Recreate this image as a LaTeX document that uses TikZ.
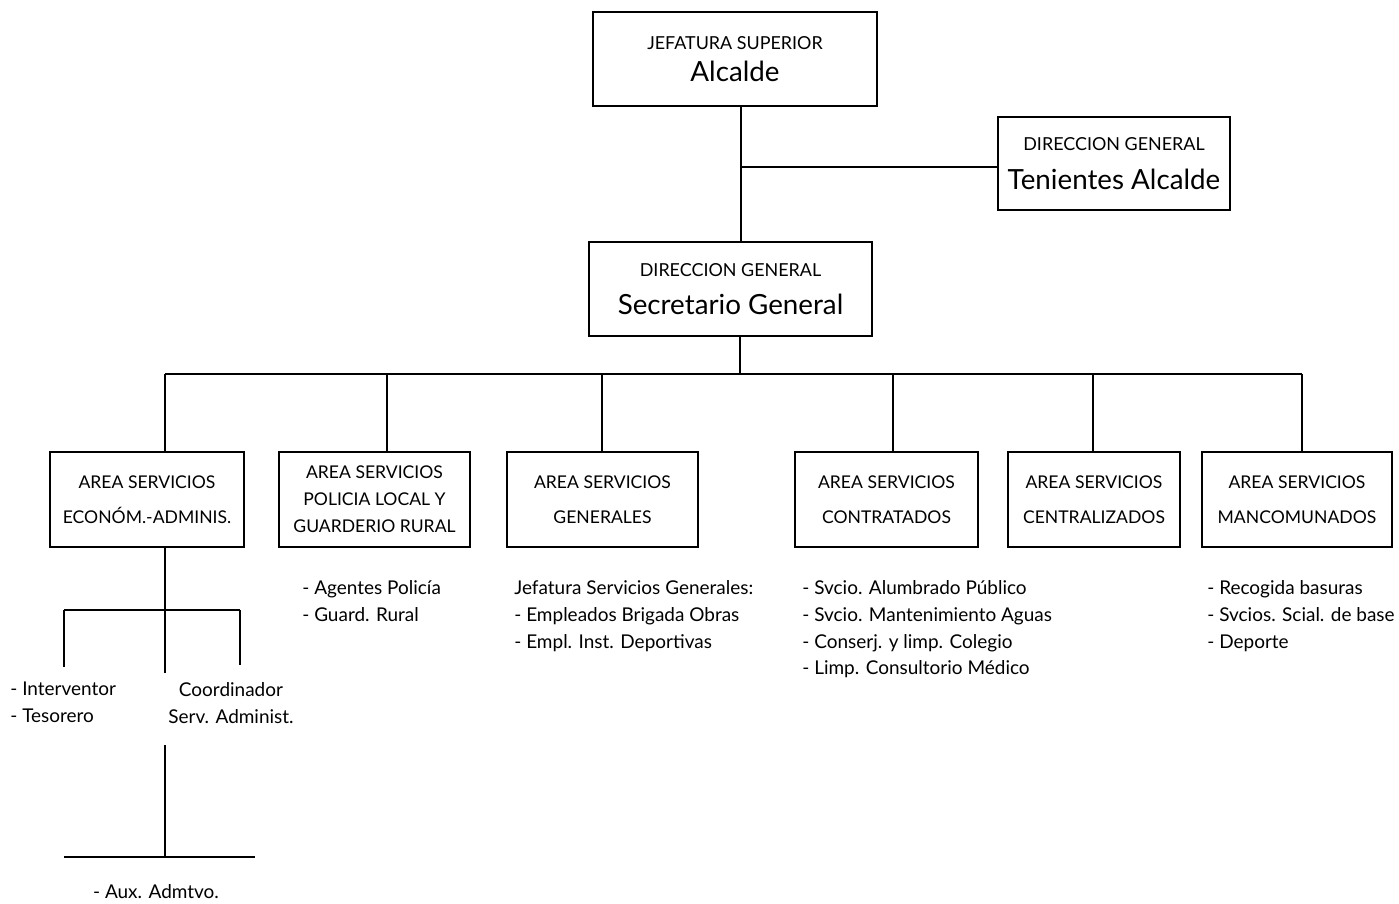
\documentclass[tikz,border=0pt]{standalone}
\usepackage{fontspec}
\setmainfont{Lato}
\tikzset{
    box/.style = {draw, line width = 1.4pt, inner sep = 0pt, align = center},
    topbox/.style = {box, minimum height = 1.88cm},
    areabox/.style = {box, minimum height = 1.9cm, font = \fontsize{10}{20}\selectfont},
    list/.style = {anchor = north west, inner sep = 0pt, align = left, font = \fontsize{10.8}{15.2}\selectfont},
    line/.style = {line width = 1.1pt}
}
\newcommand{\capsline}[1]{{\fontsize{10.2}{10}\selectfont #1}}
\newcommand{\bigline}[1]{{\fontsize{15.8}{16}\selectfont #1}}
\begin{document}
\begin{tikzpicture}[x = 0.02cm, y = -0.02cm]
        \useasboundingbox (0,0) rectangle (1399,903);
        % top level
        \node[topbox, minimum width = 5.68cm] (alc) at (735,59)
            {\capsline{JEFATURA SUPERIOR}\\[6pt]\bigline{Alcalde}};
        \node[topbox, minimum width = 4.64cm, minimum height = 1.86cm] (ten) at (1114,163.5)
            {\capsline{DIRECCION GENERAL}\\[10pt]\bigline{Tenientes Alcalde}};
        \node[topbox, minimum width = 5.66cm] (sec) at (730.5,289)
            {\capsline{DIRECCION GENERAL}\\[10pt]\bigline{Secretario General}};
        % areas
        \node[areabox, minimum width = 3.88cm] (a1) at (147,499.5) {AREA SERVICIOS\\ECONÓM.-ADMINIS.};
        \node[areabox, minimum width = 3.82cm, font = \fontsize{10}{15.4}\selectfont] (a2) at (374.5,499.5)
            {AREA SERVICIOS\\POLICIA LOCAL Y\\GUARDERIO RURAL};
        \node[areabox, minimum width = 3.82cm] (a3) at (602.5,499.5) {AREA SERVICIOS\\GENERALES};
        \node[areabox, minimum width = 3.66cm] (a4) at (886.5,499.5) {AREA SERVICIOS\\CONTRATADOS};
        \node[areabox, minimum width = 3.44cm] (a5) at (1094,499.5) {AREA SERVICIOS\\CENTRALIZADOS};
        \node[areabox, minimum width = 3.80cm] (a6) at (1297,499.5) {AREA SERVICIOS\\MANCOMUNADOS};
        % lists
        \node[list] (l2) at (302,580.5) {- Agentes Policía\\- Guard. Rural};
        \node[list] (l3) at (514,580.5) {Jefatura Servicios Generales:\\- Empleados Brigada Obras\\- Empl. Inst. Deportivas};
        \node[list] (l4) at (802,580.5) {- Svcio. Alumbrado Público\\- Svcio. Mantenimiento Aguas\\- Conserj. y limp. Colegio\\- Limp. Consultorio Médico};
        \node[list] (l6) at (1207,580.5) {- Recogida basuras\\- Svcios. Scial. de base\\- Deporte};
        \node[list] (int) at (10,682) {- Interventor\\- Tesorero};
        \node[list, align = center, anchor = north] (coord) at (231,682) {Coordinador\\Serv. Administ.};
        \node[list, anchor = north] (aux) at (156,884) {- Aux. Admtvo.};
        % connectors
        \coordinate (j1) at (741,167);
        \coordinate (s1) at (740,374);
        \coordinate (d1) at (165,374);
        \coordinate (d2) at (387,374);
        \coordinate (d3) at (602,374);
        \coordinate (d4) at (893,374);
        \coordinate (d5) at (1093,374);
        \coordinate (d6) at (1302,374);
        \coordinate (e1) at (165,610);
        \coordinate (e2) at (165,673);
        \coordinate (el) at (64,610);
        \coordinate (er) at (240,610);
        \coordinate (elb) at (64,667);
        \coordinate (erb) at (240,665);
        \coordinate (f1) at (165,745);
        \coordinate (f2) at (165,857);
        \coordinate (fl) at (64,857);
        \coordinate (fr) at (255,857);
        \begin{scope}[style = line]
            \draw (j1 |- alc.south) -- (j1 |- sec.north);
            \draw (j1) -- (j1 -| ten.west);
            \draw (s1 |- sec.south) -- (s1);
            \draw (d1) -- (d6);
            \foreach \i in {1,...,6}
                \draw (d\i) -- (d\i |- a\i.north);
            \draw (e1 |- a1.south) -- (e2);
            \draw (el) -- (er);
            \draw (el) -- (elb);
            \draw (er) -- (erb);
            \draw (f1) -- (f2);
            \draw (fl) -- (fr);
        \end{scope}
    \end{tikzpicture}
\end{document}
